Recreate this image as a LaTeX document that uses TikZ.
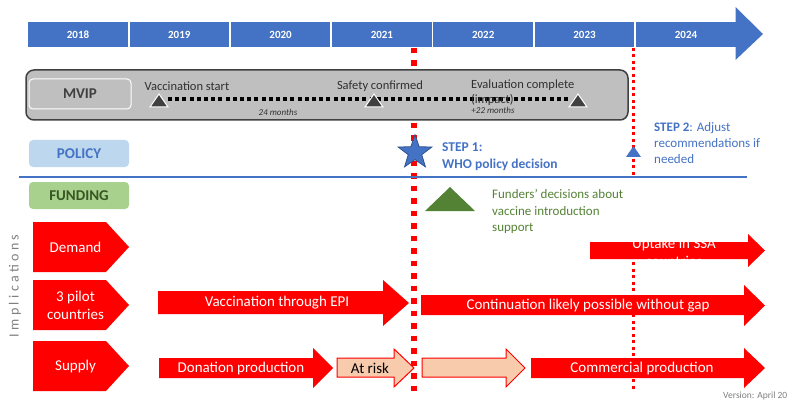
\documentclass[tikz,border=0pt]{standalone}
\usepackage{fontspec}
\setmainfont{Carlito}
\usetikzlibrary{shapes.geometric}
\definecolor{yblue}{HTML}{4472C4}
\definecolor{starborder}{HTML}{2F528F}
\definecolor{mvipgray}{HTML}{BFBFBF}
\definecolor{darkgray}{HTML}{404040}
\definecolor{txtgray}{HTML}{303030}
\definecolor{salmon}{HTML}{F8CBAD}
\definecolor{policyfill}{HTML}{BDD7EE}
\definecolor{fundfill}{HTML}{A9D18E}
\definecolor{fundtext}{HTML}{375623}
\definecolor{fgreen}{HTML}{548235}
\definecolor{lgray}{HTML}{7F7F7F}
\begin{document}
\begin{tikzpicture}[x=1pt,y=-1pt,
  yearcell/.style={fill=yblue, minimum width=99.5pt, minimum height=24.5pt, inner sep=0pt, text=white, font=\fontsize{11}{13}\selectfont\bfseries},
  mviptxt/.style={text=txtgray, inner sep=0pt, font=\fontsize{12.5}{15}\selectfont},
  monthtxt/.style={text=txtgray, inner sep=0pt, font=\fontsize{9}{11}\selectfont\itshape},
  mtri/.style={fill=darkgray, draw=white, line width=1pt},
  labelbox/.style={rounded corners=4pt, minimum width=100pt, minimum height=27pt, inner sep=0pt, font=\fontsize{15}{18}\selectfont\bfseries},
  redshape/.style={fill=red},
  salmonshape/.style={fill=salmon, draw=red, line width=1pt},
  whitetxt/.style={text=white, inner sep=0pt, font=\fontsize{15}{17.5}\selectfont, align=center},
  bluetxt/.style={text=yblue, inner sep=0pt, align=left, anchor=west},
  thickred/.style={red, line width=5.5pt, dash pattern=on 5.5pt off 7pt},
  thinred/.style={red, line width=3pt, dash pattern=on 3pt off 3.5pt}]
\useasboundingbox (0,0) rectangle (795,401);

% ---------- year bar ----------
\node[yearcell] (y2018) at (78,34.5) {2018};
\node[yearcell] (y2019) at (179.3,34.5) {2019};
\node[yearcell] (y2020) at (280.6,34.5) {2020};
\node[yearcell] (y2021) at (381.9,34.5) {2021};
\node[yearcell] (y2022) at (483.2,34.5) {2022};
\node[yearcell] (y2023) at (584.5,34.5) {2023};
\node[yearcell] (y2024) at (686,34.5) {2024};
\fill[yblue] (735.5,7) -- (763,34) -- (735.5,60) -- cycle;

% ---------- implication rows (left pentagons) ----------
\fill[redshape] (33,222) -- (106,222) -- (129,247) -- (106,272) -- (33,272) -- cycle;
\fill[redshape] (33,280) -- (106,280) -- (129,305) -- (106,330) -- (33,330) -- cycle;
\fill[redshape] (33,341) -- (106,341) -- (129,366) -- (106,391) -- (33,391) -- cycle;
\node[whitetxt] (demand) at (75.5,247) {Demand};
\node[whitetxt] (pilot) at (75.5,305.5) {3 pilot\\countries};
\node[whitetxt] (supply) at (75.5,366.5) {Supply};
\node[text=lgray, rotate=90, inner sep=0pt, font=\fontsize{14}{16}\selectfont\addfontfeature{LetterSpace=24}] (impl) at (15,286) {Implications};

% ---------- arrows ----------
% uptake
\fill[redshape] (590,242) -- (748,242) -- (748,234) -- (765,250.5) -- (748,267) -- (748,259) -- (590,259) -- cycle;
\node[whitetxt] (uptake) at (674,252.5) {Uptake in SSA\\countries};
% vaccination through EPI
\fill[redshape] (158,291) -- (383,291) -- (383,280) -- (409,303) -- (383,326) -- (383,314) -- (158,314) -- cycle;
\node[whitetxt] (epi) at (277,303) {Vaccination through EPI};
% continuation
\fill[redshape] (421,295) -- (744,295) -- (744,285) -- (765,305.5) -- (744,326) -- (744,315) -- (421,315) -- cycle;
\node[whitetxt] (cont) at (588,305.5) {Continuation likely possible without gap};
% donation
\fill[redshape] (159,358) -- (313,358) -- (313,348) -- (333,368) -- (313,388) -- (313,378) -- (159,378) -- cycle;
\node[whitetxt] (don) at (241,368) {Donation production};
% at risk
\filldraw[salmonshape] (337,358) -- (394,358) -- (394,349) -- (414,368) -- (394,387) -- (394,377) -- (337,377) -- cycle;
\node[inner sep=0pt, font=\fontsize{15}{17.5}\selectfont] (risk) at (370,368) {At risk};
% second salmon
\filldraw[salmonshape] (422,358) -- (506,358) -- (506,349) -- (525,368) -- (506,387) -- (506,377) -- (422,377) -- cycle;
% commercial
\fill[redshape] (531,358) -- (744,358) -- (744,348) -- (765,368) -- (744,388) -- (744,378) -- (531,378) -- cycle;
\node[whitetxt] (comm) at (642,368) {Commercial production};

% ---------- thick red decision line ----------
\coordinate (r1top) at (414,48);
\coordinate (r1bot) at (414,392);
\draw[thickred] (r1top) -- (r1bot);

% ---------- MVIP box ----------
\draw[fill=mvipgray, draw=darkgray, line width=1.5pt, rounded corners=8pt] (26,70) rectangle (628,120);
\node[labelbox, fill=mvipgray, draw=white, line width=1pt, text=darkgray, minimum width=102pt, minimum height=30pt] (mvip) at (80,94) {MVIP};
\coordinate (d1) at (168,99);
\coordinate (d2) at (570,99);
\draw[black, line width=4pt, dash pattern=on 4pt off 3.2pt] (d1) -- (d2);
\draw[mtri] (150,107) -- (159,94) -- (168,107) -- cycle;
\draw[mtri] (365,107) -- (374,94) -- (383,107) -- cycle;
\draw[mtri] (569,107) -- (578,94) -- (587,107) -- cycle;
\node[mviptxt] (vstart) at (187,86) {Vaccination start};
\node[mviptxt] (safety) at (380,86) {Safety confirmed};
\node[mviptxt, anchor=west, align=left] (eval) at (471,93) {Evaluation complete\\(impact)};
\node[monthtxt] (m24) at (278,112.5) {24 months};
\node[monthtxt] (m22) at (493,110.5) {+22 months};

% ---------- policy / funding ----------
\node[labelbox, fill=policyfill, text=yblue] (policy) at (79,153.5) {POLICY};
\node[labelbox, fill=fundfill, text=fundtext] (funding) at (79,195.5) {FUNDING};
\coordinate (hl1) at (19,177);
\coordinate (hl2) at (747,177);
\draw[yblue, line width=1.2pt] (hl1) -- (hl2);

\node[star, star points=5, star point ratio=2.5, minimum size=35.5pt, inner sep=0pt, fill=yblue, draw=starborder, line width=0.8pt] (star) at (415,152.5) {};
\node[bluetxt, font=\fontsize{13.5}{17}\selectfont\bfseries] (step1) at (442,156.5) {STEP 1:\\WHO policy decision};

\fill[fgreen] (425,211) -- (450,187) -- (475,211) -- cycle;
\node[text=fgreen, inner sep=0pt, align=left, anchor=west, font=\fontsize{13}{16.5}\selectfont] (funders) at (492,211.5) {Funders’ decisions about\\vaccine introduction\\support};

% ---------- thin red line (step 2) ----------
\coordinate (r2top) at (633,48);
\coordinate (r2mid) at (633,178);
\coordinate (r2low) at (633,262);
\coordinate (r2bot) at (633,389);
\draw[thinred] (r2top) -- (r2mid);
\draw[thinred] (r2low) -- (r2bot);
\fill[yblue] (626,157) -- (633.5,146) -- (641,157) -- cycle;
\node[bluetxt, font=\fontsize{13}{16}\selectfont] (step2) at (654,143) {\textbf{STEP 2}: Adjust\\recommendations if\\needed};

% ---------- version ----------
\node[text=lgray, anchor=west, inner sep=0pt, font=\fontsize{9.5}{11}\selectfont] (version) at (723,395.5) {Version: April 20};
\end{tikzpicture}
\end{document}
